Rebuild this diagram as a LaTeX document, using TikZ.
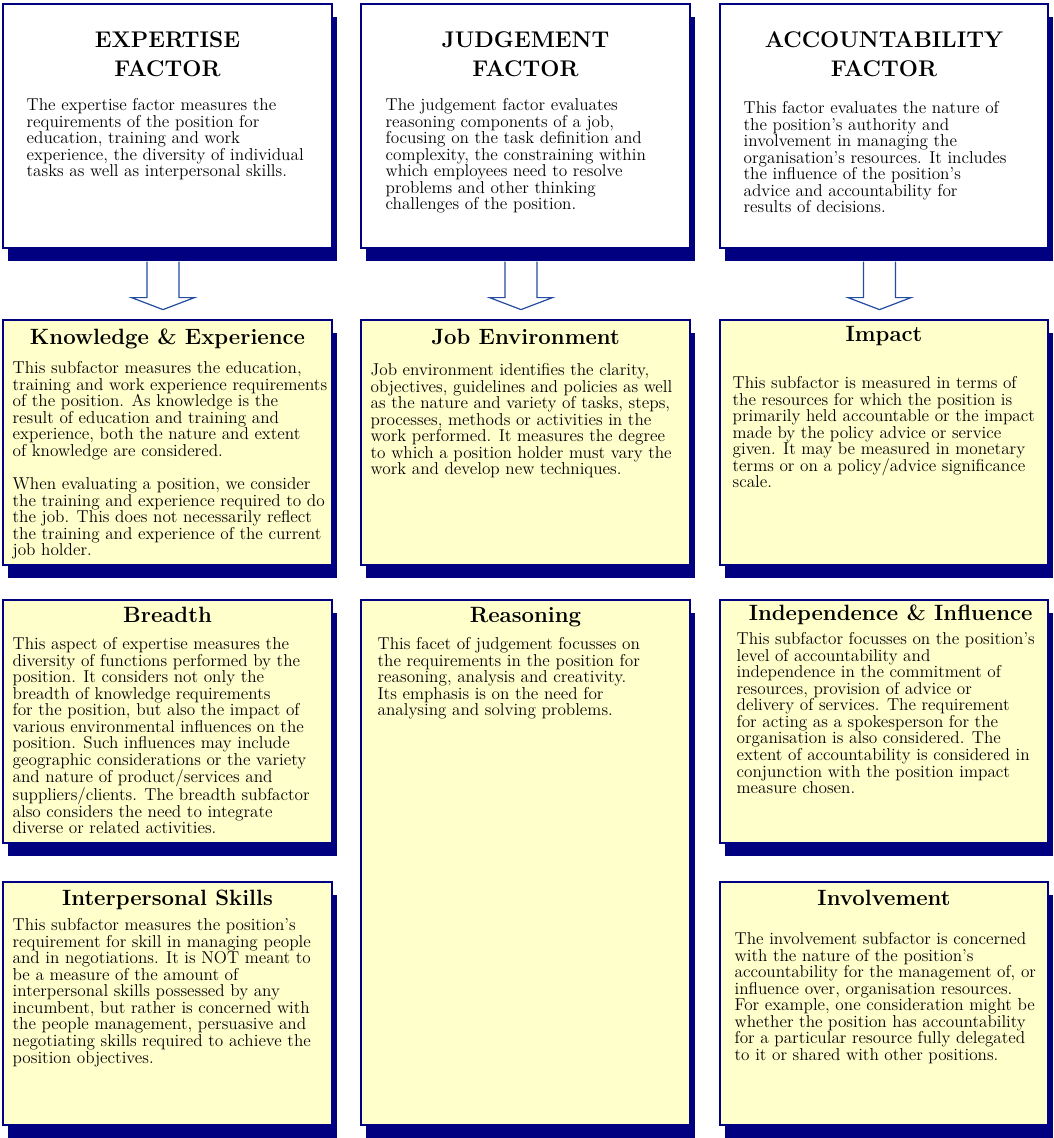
\documentclass[tikz,border=0pt]{standalone}
\usepackage{tikz}
\usetikzlibrary{positioning, fit, shadows}
\definecolor{navyshade}{RGB}{0,0,128}
\definecolor{paleyellow}{RGB}{255,255,204}
\definecolor{arrowblue}{RGB}{36,76,160}
\tikzset{blockarrow/.style={draw=arrowblue, fill=white, line width=0.9pt, line join=miter}}

\begin{document}
\begin{tikzpicture}[x=0.75pt, y=-0.75pt,
  factorbox/.style={draw=navyshade, fill=white, line width=0.9pt, inner sep=0pt, general shadow={fill=navyshade, shadow xshift=3.75pt, shadow yshift=-9.75pt}},
  subbox/.style={factorbox, fill=paleyellow},
  factortitle/.style={inner sep=0pt, align=center, font=\bfseries\fontsize{17}{21.75}\selectfont},
  subtitle/.style={inner sep=0pt, font=\bfseries\fontsize{16.6}{19}\selectfont},
  bodytext/.style={inner sep=0pt, align=left, font=\fontsize{12.9}{12.4}\selectfont}]
    \useasboundingbox (0,0) rectangle (1053,1138);

    %Factor boxes
    \node[factorbox, fit={(3,4) (332,248)}](expf){};
    \node[factorbox, fit={(361,4) (690,248)}](judf){};
    \node[factorbox, fit={(720,4) (1048,248)}](accf){};

    %Subfactor boxes
    \node[subbox, fit={(3,320) (332,565)}](know){};
    \node[subbox, fit={(361,320) (690,565)}](jobenv){};
    \node[subbox, fit={(720,320) (1048,565)}](impact){};
    \node[subbox, fit={(3,600) (332,843)}](breadth){};
    \node[subbox, fit={(361,600) (690,1125)}](reason){};
    \node[subbox, fit={(720,600) (1048,843)}](indep){};
    \node[subbox, fit={(3,882) (332,1125)}](interp){};
    \node[subbox, fit={(720,882) (1048,1125)}](involve){};

    %Arrows
    \foreach \f in {expf, judf, accf}
        \draw[blockarrow] ([xshift=-15.375pt, yshift=-9.75pt]\f.south) -- ++(0,36) -- ++(-15.5,0) -- ++(31.5,12) -- ++(31.5,-12) -- ++(-15.5,0) -- ++(0,-36);

    %Factor texts
    \node[factortitle](expfT)[below=21pt of expf.north]{EXPERTISE\\FACTOR};
    \node[bodytext](expfB)[below right=71.25pt and 18pt of expf.north west]{The expertise factor measures the\\requirements of the position for\\education, training and work\\experience, the diversity of individual\\tasks as well as interpersonal skills.};

    \node[factortitle](judfT)[below=21pt of judf.north]{JUDGEMENT\\FACTOR};
    \node[bodytext](judfB)[below right=71.25pt and 18.75pt of judf.north west]{The judgement factor evaluates\\reasoning components of a job,\\focusing on the task definition and\\complexity, the constraining within\\which employees need to resolve\\problems and other thinking\\challenges of the position.};

    \node[factortitle](accfT)[below=21pt of accf.north]{ACCOUNTABILITY\\FACTOR};
    \node[bodytext](accfB)[below right=73.5pt and 18pt of accf.north west]{This factor evaluates the nature of\\the position's authority and\\involvement in managing the\\organisation's resources.  It includes\\the influence of the position's\\advice and accountability for\\results of decisions.};

    %Subfactor texts
    \node[subtitle](knowT)[below=6.75pt of know.north]{Knowledge \& Experience};
    \node[bodytext](knowB)[below right=31.5pt and 7.5pt of know.north west]{This subfactor measures the education,\\training and work experience requirements\\of the position.  As knowledge is the\\result of education and training and\\experience, both the nature and extent\\of knowledge are considered.\\[12.4pt]When evaluating a position, we consider\\the training and experience required to do\\the job.  This does not necessarily reflect\\the training and experience of the current\\job holder.};

    \node[subtitle](jobenvT)[below=6.75pt of jobenv.north]{Job Environment};
    \node[bodytext](jobenvB)[below right=33pt and 7.5pt of jobenv.north west]{Job environment identifies the clarity,\\objectives, guidelines and policies as well\\as the nature and variety of tasks, steps,\\processes, methods or activities in the\\work performed.  It measures the degree\\to which a position holder must vary the\\work and develop new techniques.};

    \node[subtitle](impactT)[below=5.25pt of impact.north]{Impact};
    \node[bodytext](impactB)[below right=42.75pt and 9.75pt of impact.north west]{This subfactor is measured in terms of\\the resources for which the position is\\primarily held accountable or the impact\\made by the policy advice or service\\given.  It may be measured in monetary\\terms or on a policy/advice significance\\scale.};

    \node[subtitle](breadthT)[below=5.25pt of breadth.north]{Breadth};
    \node[bodytext](breadthB)[below right=28.5pt and 7.5pt of breadth.north west]{This aspect of expertise measures the\\diversity of functions performed by the\\position.  It considers not only the\\breadth of knowledge requirements\\for the position, but also the impact of\\various environmental influences on the\\position.  Such influences may include\\geographic considerations or the variety\\and nature of product/services and\\suppliers/clients.  The breadth subfactor\\also considers the need to integrate\\diverse or related activities.};

    \node[subtitle](reasonT)[below=6pt of reason.north]{Reasoning};
    \node[bodytext](reasonB)[below right=28.5pt and 12.75pt of reason.north west]{This facet of judgement focusses on\\the requirements in the position for\\reasoning, analysis and creativity.\\Its emphasis is on the need for\\analysing and solving problems.};

    \node[subtitle](indepT)[below=3.75pt of indep.north, xshift=5pt]{Independence \& Influence};
    \node[bodytext](indepB)[below right=24.75pt and 12.75pt of indep.north west]{This subfactor focusses on the position's\\level of accountability and\\independence in the commitment of\\resources, provision of advice or\\delivery of services.  The requirement\\for acting as a spokesperson for the\\organisation is also considered.  The\\extent of accountability is considered in\\conjunction with the position impact\\measure chosen.};

    \node[subtitle](interpT)[below=6pt of interp.north]{Interpersonal Skills};
    \node[bodytext](interpB)[below right=27.75pt and 7.5pt of interp.north west]{This subfactor measures the position's\\requirement for skill in managing people\\and in negotiations.  It is NOT meant to\\be a measure of the amount of\\interpersonal skills possessed by any\\incumbent, but rather is concerned with\\the people management, persuasive and\\negotiating skills required to achieve the\\position objectives.};

    \node[subtitle](involveT)[below=6pt of involve.north]{Involvement};
    \node[bodytext](involveB)[below right=38.25pt and 11.25pt of involve.north west]{The involvement subfactor is concerned\\with the nature of the position's\\accountability for the management of, or\\influence over, organisation resources.\\For example, one consideration might be\\whether the position has accountability\\for a particular resource fully delegated\\to it or shared with other positions.};

\end{tikzpicture}
\end{document}
